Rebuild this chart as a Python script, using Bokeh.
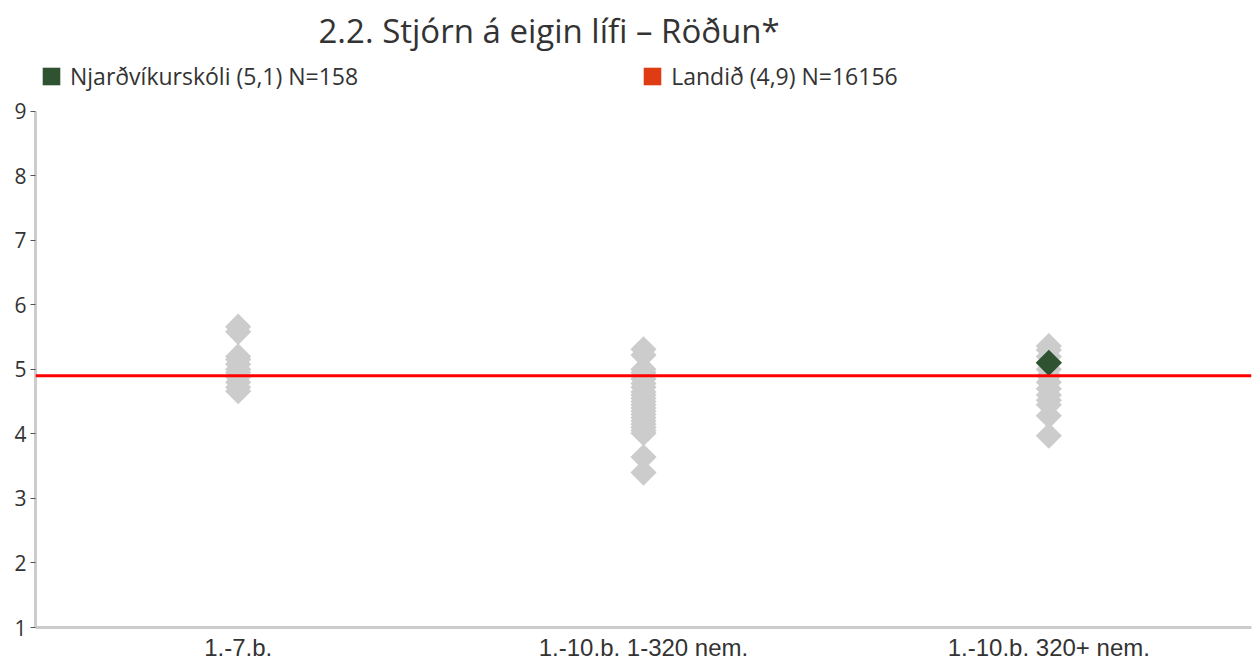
import math
from bokeh.plotting import figure
from bokeh.models import ColumnDataSource, FactorRange, Span, Legend, LegendItem, FixedTicker
from bokeh.embed import file_html
from bokeh.resources import INLINE

# ---- data ----
categories = ["1.-7.b.", "1.-10.b. 1-320 nem.", "1.-10.b. 320+ nem."]

group1_values = [5.66, 5.58, 5.20, 5.15, 5.08, 5.00, 4.95, 4.88, 4.80, 4.72, 4.66]
group2_values = [5.31, 5.22, 5.00, 4.95, 4.90, 4.85, 4.78, 4.72, 4.65, 4.60, 4.55, 4.50,
                 4.45, 4.40, 4.35, 4.30, 4.25, 4.20, 4.15, 4.10, 4.05, 4.01, 3.64, 3.40]
group3_values = [5.36, 5.30, 5.20, 5.10, 5.00, 4.90, 4.80, 4.70, 4.60, 4.52, 4.45, 4.28, 3.97]

school_name = "Njarðvíkurskóli (5,1) N=158"
school_category = "1.-10.b. 320+ nem."
school_value = 5.1

national_name = "Landið (4,9) N=16156"
national_value = 4.9

y_ticks = [1, 2, 3, 4, 5, 6, 7, 8, 9]

# ---- build ----
xs, ys = [], []
for cat, vals in zip(categories, [group1_values, group2_values, group3_values]):
    xs += [cat] * len(vals)
    ys += vals
others = ColumnDataSource(dict(x=xs, y=ys))
school = ColumnDataSource(dict(x=[school_category], y=[school_value]))

p = figure(width=1252, height=663, x_range=FactorRange(*categories, range_padding=0),
           y_range=(1, 9.83), output_backend="svg", toolbar_location=None,
           min_border_left=35, min_border_right=1, min_border_top=50, min_border_bottom=0)

p.title.text = "2.2. Stjórn á eigin lífi – Röðun*"
p.title.text_font = "Open Sans"
p.title.text_font_size = "33px"
p.title.text_font_style = "normal"
p.title.text_color = "#333333"
p.title.align = "left"
p.title.offset = 283

p.outline_line_color = None
p.grid.visible = False

GREEN = "#2f5230"
GRAY = "#cccccc"

p.scatter("x", "y", source=others, marker="square", size=18.5, angle=math.pi / 4,
          fill_color=GRAY, line_color=None)
span = Span(location=national_value, dimension="width", line_color="#ff0000", line_width=3)
p.add_layout(span)
p.scatter("x", "y", source=school, marker="square", size=18.5, angle=math.pi / 4,
          fill_color=GREEN, line_color=None)

# legend proxies (zero-area boxes, only used for legend swatches)
g1 = p.quad(left=[school_category], right=[school_category],
            bottom=[school_value], top=[school_value],
            fill_color=GREEN, line_color=None)
g2 = p.quad(left=[school_category], right=[school_category],
            bottom=[national_value], top=[national_value],
            fill_color="#e03c14", line_color=None)
legend = Legend(items=[LegendItem(label=school_name, renderers=[g1]),
                       LegendItem(label=national_name, renderers=[g2])],
                orientation="horizontal", location=(5, 535),
                glyph_width=22, glyph_height=22, label_standoff=8,
                spacing=283, padding=0, margin=0,
                border_line_color=None, background_fill_alpha=0,
                label_text_font="Open Sans", label_text_font_size="23px",
                label_text_color="#333333")
p.add_layout(legend)

# axes
p.yaxis.ticker = FixedTicker(ticks=y_ticks)
p.yaxis.bounds = (1, 9)
p.yaxis.axis_line_color = GRAY
p.yaxis.axis_line_width = 3
p.yaxis.major_tick_line_color = "#555555"
p.yaxis.major_tick_out = 5
p.yaxis.major_tick_in = 0
p.yaxis.minor_tick_line_color = None
p.yaxis.major_label_text_font = "Open Sans"
p.yaxis.major_label_text_font_size = "21px"
p.yaxis.major_label_text_color = "#333333"
p.yaxis.major_label_standoff = 4

p.xaxis.axis_line_color = GRAY
p.xaxis.axis_line_width = 3
p.xaxis.major_tick_line_color = None
p.xaxis.minor_tick_line_color = None
p.xaxis.major_label_text_font = "Liberation Sans"
p.xaxis.major_label_text_font_size = "24px"
p.xaxis.major_label_text_color = "#333333"
p.xaxis.major_label_standoff = 0

open("out.html", "w").write(file_html(p, INLINE))
